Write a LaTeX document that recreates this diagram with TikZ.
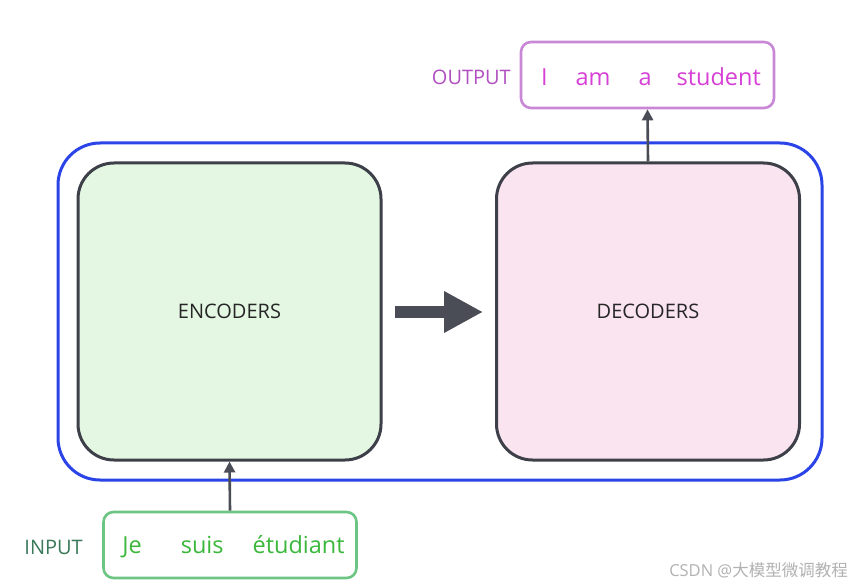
\documentclass[tikz,border=0pt]{standalone}
\usepackage{fontspec}
\setmainfont{Open Sans}
\newfontfamily\cjkfont{Noto Sans CJK SC}
\usetikzlibrary{arrows.meta,calc}
\definecolor{outerblue}{HTML}{2A44E8}
\definecolor{boxgray}{HTML}{3D4049}
\definecolor{encfill}{HTML}{E4F7E3}
\definecolor{decfill}{HTML}{FAE4EF}
\definecolor{outstroke}{HTML}{C888D6}
\definecolor{outtext}{HTML}{D640D6}
\definecolor{outlabel}{HTML}{B050C0}
\definecolor{instroke}{HTML}{6CC583}
\definecolor{intext}{HTML}{3CB83C}
\definecolor{inlabel}{HTML}{3A7A5A}
\definecolor{arrowgray}{HTML}{4A4D55}
\tikzset{
  mainbox/.style={draw=boxgray, line width=3pt, rounded corners=36pt, minimum width=303pt, minimum height=297pt, inner sep=0pt, font=\fontsize{20}{22}\selectfont, text=black!85},
  wordbox/.style={line width=2.6pt, rounded corners=10pt, minimum width=253pt, minimum height=66pt, inner sep=0pt, font=\fontsize{23.5}{25}\selectfont},
  lbl/.style={font=\fontsize{20}{22}\selectfont, inner sep=0pt, anchor=east},
  conn/.style={draw=arrowgray, line width=2.6pt, -{Triangle[length=11pt,width=11pt]}}
}
\begin{document}
\begin{tikzpicture}[x=1pt,y=-1pt]
\useasboundingbox (0,0) rectangle (850,585);
\fill[white] (0,0) rectangle (850,585);
% outer container
\node[draw=outerblue, line width=3pt, rounded corners=42pt, minimum width=764pt, minimum height=337pt, inner sep=0pt] (outer) at (440,311.5) {};
\node[mainbox, fill=encfill] (enc) at (229.5,311.5) {ENCODERS};
\node[mainbox, fill=decfill] (dec) at (648,311.5) {DECODERS};
% big arrow between
\coordinate (ba) at (395,312);
\coordinate (bb) at (483,312);
\draw[arrowgray, line width=12pt, -{Triangle[length=39pt,width=39pt]}] (ba) -- (bb);
% output
\node[wordbox, draw=outstroke] (out) at (647.5,75) {};
\node[text=outtext, font=\fontsize{23.5}{25}\selectfont, inner sep=0pt] (outt) at (651,77) {I\hspace{28pt}am\hspace{28pt}a\hspace{25pt}student};
\node[lbl, text=outlabel] (outl) at (511,77) {OUTPUT};
% input
\node[wordbox, draw=instroke] (inp) at (230,545) {};
\node[text=intext, font=\fontsize{23.5}{25}\selectfont, inner sep=0pt] (inpt) at (233.5,547) {Je\hspace{39pt}suis\hspace{29pt}étudiant};
\node[lbl, text=inlabel] (inl) at (83,547) {INPUT};
% connectors
\draw[conn] (dec.north) -- (out.south);
\draw[conn] (inp.north) -- (enc.south);
% watermark
\node[anchor=east, text=black!30, font=\fontsize{16.5}{18}\selectfont, inner sep=0pt] (wm) at (848,570) {CSDN @{\cjkfont 大模型微调教程}};
\end{tikzpicture}
\end{document}
